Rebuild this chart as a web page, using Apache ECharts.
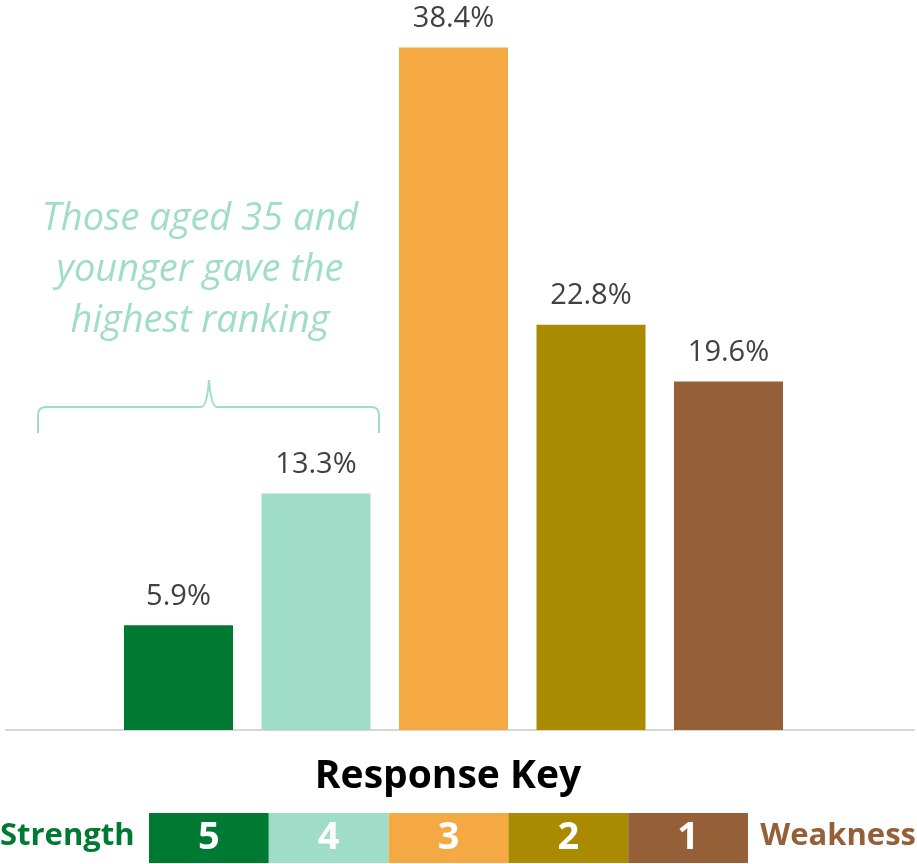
<!DOCTYPE html>
<html>
<head>
<meta charset="utf-8">
<script src="https://cdn.jsdelivr.net/npm/echarts@6/dist/echarts.min.js"></script>
<style>
html,body{margin:0;padding:0;background:#fff;}
#chart{width:917px;height:864px;}
</style>
</head>
<body>
<div id="chart"></div>
<script>
// Data
var categories = ['5', '4', '3', '2', '1'];
var values = [5.9, 13.3, 38.4, 22.8, 19.6];
var barColors = ['#007A33', '#A0DDC8', '#F5A942', '#AA8A00', '#955F37'];
var keyLabels = ['5', '4', '3', '2', '1'];
var keyFill = [1, 1, 1, 1, 1];
var annotationText = 'Those aged 35 and\nyounger gave the\nhighest ranking';

var chart = echarts.init(document.getElementById('chart'), null, {renderer: 'canvas'});

var braceStyle = {stroke: '#A0DDC8', lineWidth: 2, fill: null};
function seg(x1, y1, x2, y2) {
  return {type: 'line', shape: {x1: x1, y1: y1, x2: x2, y2: y2}, style: braceStyle};
}
function curve(x1, y1, cx, cy, x2, y2) {
  return {type: 'bezierCurve', shape: {x1: x1, y1: y1, cpx1: cx, cpy1: cy, x2: x2, y2: y2}, style: braceStyle};
}

var option = {
  backgroundColor: '#ffffff',
  animation: false,
  grid: [
    {left: 109.75, right: 119.75, top: 19, bottom: 134},
    {left: 6, right: 3, top: 19, bottom: 134},
    {left: 149, top: 813, width: 599, height: 50}
  ],
  xAxis: [
    {gridIndex: 0, type: 'category', data: categories, show: false},
    {gridIndex: 1, type: 'value', min: 0, max: 1,
      axisLine: {show: true, onZero: false, lineStyle: {color: '#D6D6D6', width: 2}},
      axisTick: {show: false}, axisLabel: {show: false}, splitLine: {show: false}},
    {gridIndex: 2, type: 'category', data: keyLabels, show: false}
  ],
  yAxis: [
    {gridIndex: 0, type: 'value', min: 0, max: 40, show: false},
    {gridIndex: 1, type: 'value', min: 0, max: 1, show: false},
    {gridIndex: 2, type: 'value', min: 0, max: 1, show: false}
  ],
  series: [
    {
      type: 'bar',
      xAxisIndex: 0, yAxisIndex: 0,
      barWidth: 109,
      z: 1,
      data: values.map(function (v, i) {
        return {value: v, itemStyle: {color: barColors[i]}};
      }),
      label: {
        show: true,
        position: 'top',
        distance: 14,
        color: '#404040',
        fontFamily: 'Open Sans',
        fontSize: 29,
        lineHeight: 29,
        formatter: function (p) { return p.value.toFixed(1) + '%'; }
      }
    },
    {
      type: 'bar',
      xAxisIndex: 2, yAxisIndex: 2,
      barCategoryGap: '0%',
      data: keyFill.map(function (v, i) {
        return {value: v, itemStyle: {color: barColors[i]}};
      }),
      label: {
        show: true,
        position: 'inside',
        formatter: '{b}',
        color: '#ffffff',
        fontFamily: 'Open Sans',
        fontWeight: 'bold',
        fontSize: 38
      }
    }
  ],
  graphic: [
    {
      type: 'text',
      style: {
        text: annotationText,
        x: 200, y: 270,
        align: 'center', verticalAlign: 'middle',
        fill: '#A0DDC8',
        fontFamily: 'Open Sans',
        fontStyle: 'italic',
        fontSize: 38,
        lineHeight: 51
      }
    },
    seg(38, 433, 38, 415),
    curve(38, 415, 38, 407, 46, 407),
    seg(46, 407, 201, 407),
    curve(201, 407, 207, 407, 209, 380),
    curve(209, 380, 211, 407, 217, 407),
    seg(217, 407, 371, 407),
    curve(371, 407, 379, 407, 379, 415),
    seg(379, 415, 379, 433),
    {
      type: 'text',
      style: {
        text: 'Response Key',
        x: 448, y: 777,
        align: 'center', verticalAlign: 'middle',
        fill: '#000000',
        fontFamily: 'Open Sans',
        fontWeight: 'bold',
        fontSize: 39
      }
    },
    {
      type: 'text',
      style: {
        text: 'Strength',
        x: 0, y: 836,
        align: 'left', verticalAlign: 'middle',
        fill: '#007A33',
        fontFamily: 'Open Sans',
        fontWeight: 'bold',
        fontSize: 31
      }
    },
    {
      type: 'text',
      style: {
        text: 'Weakness',
        x: 916, y: 836,
        align: 'right', verticalAlign: 'middle',
        fill: '#955F37',
        fontFamily: 'Open Sans',
        fontWeight: 'bold',
        fontSize: 31
      }
    }
  ]
};
chart.setOption(option);
</script>
</body>
</html>
